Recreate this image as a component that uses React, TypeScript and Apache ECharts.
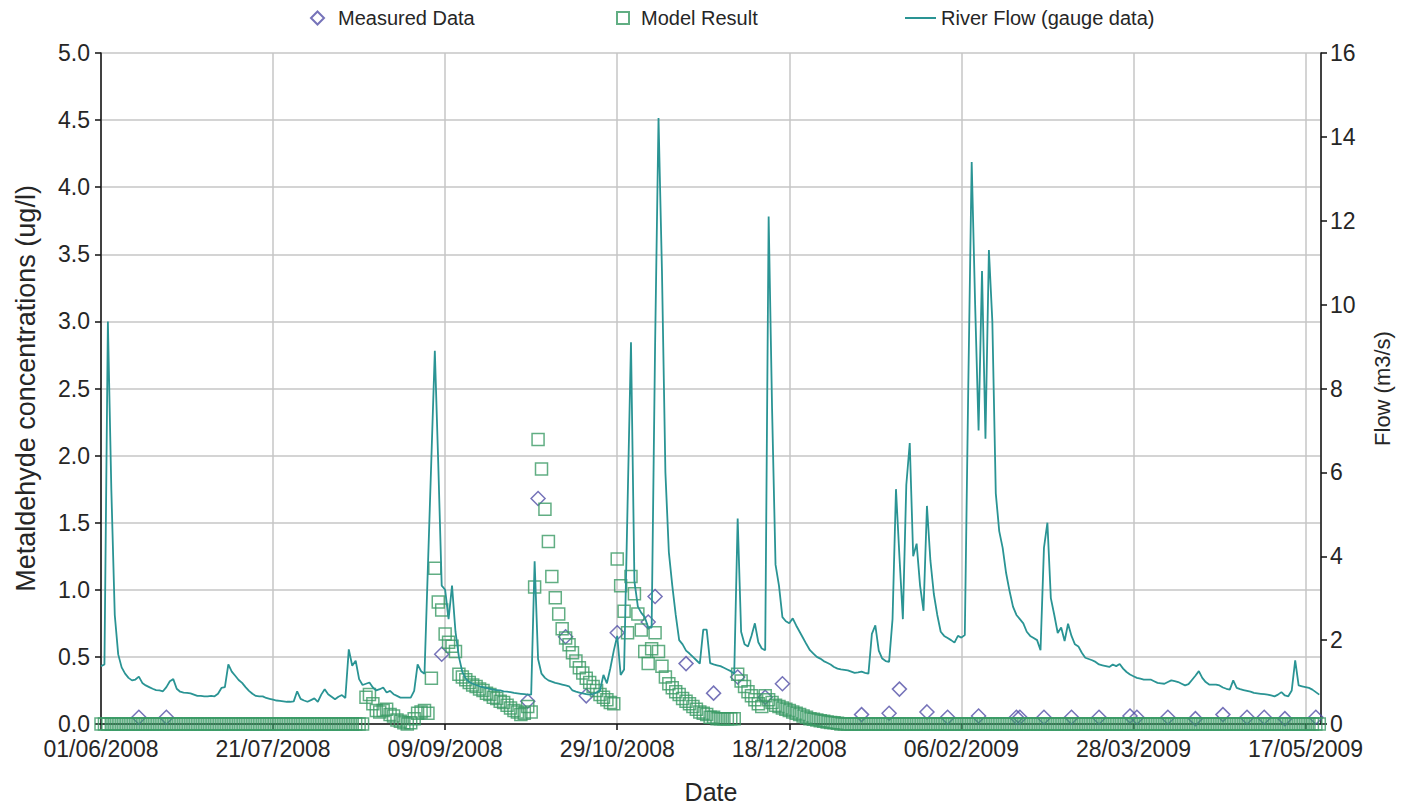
import React, { useEffect, useRef } from "react";
import * as echarts from "echarts";

// x values are day offsets from 01/06/2008
const START_DATE = Date.UTC(2008, 5, 1);
const X_MAX_DAY = 354.5;
const X_TICK_DAYS = 50;

const legendNames = ["Measured Data", "Model Result", "River Flow (gauge data)"];

// River flow (m3/s), one value per day from 01/06/2008
const flowValues = [
  1.38, 1.42, 9.6, 5.6, 2.6, 1.66, 1.35, 1.2, 1.1, 1.04,
  1.06, 1.13, 0.98, 0.92, 0.88, 0.84, 0.81, 0.8, 0.78, 0.88,
  1.02, 1.07, 0.84, 0.77, 0.75, 0.74, 0.73, 0.7, 0.67, 0.67,
  0.66, 0.66, 0.67, 0.66, 0.72, 0.86, 0.88, 1.42, 1.25, 1.15,
  1.05, 0.98, 0.88, 0.79, 0.72, 0.67, 0.66, 0.66, 0.62, 0.6,
  0.58, 0.56, 0.55, 0.54, 0.53, 0.53, 0.54, 0.78, 0.6, 0.56,
  0.53, 0.57, 0.61, 0.53, 0.7, 0.83, 0.71, 0.65, 0.59, 0.65,
  0.69, 0.62, 1.78, 1.39, 1.51, 1.07, 0.93, 0.96, 0.99, 0.87,
  0.8, 0.83, 0.87, 0.75, 0.79, 0.71, 0.67, 0.63, 0.63, 0.63,
  0.63, 0.79, 1.42, 1.26, 1.2, 3.77, 6.33, 8.9, 6.2, 3.3,
  3.2, 2.5, 3.3, 2.2, 1.6, 1.24, 1.08, 1.0, 0.96, 0.93,
  0.9, 0.88, 0.86, 0.84, 0.82, 0.81, 0.8, 0.78, 0.77, 0.76,
  0.74, 0.73, 0.72, 0.71, 0.7, 0.7, 3.88, 1.55, 1.2, 1.1,
  1.04, 1.01, 0.98, 0.96, 0.94, 0.92, 0.9, 0.8, 0.77, 0.75,
  0.73, 0.71, 0.7, 0.72, 0.75, 0.8, 1.17, 0.97, 1.33, 1.75,
  2.1, 1.17, 1.3, 5.2, 9.1, 3.4, 2.8, 2.65, 2.55, 2.3,
  2.3, 9.0, 14.45, 10.8, 6.0, 4.1, 3.3, 2.6, 2.0, 1.9,
  1.75, 1.68, 1.6, 1.52, 1.44, 2.25, 2.25, 1.45, 1.42, 1.4,
  1.38, 1.34, 1.3, 1.26, 1.2, 4.9, 2.2, 1.9, 1.85, 2.1,
  2.4, 1.95, 1.8, 1.76, 12.1, 7.5, 3.8, 3.3, 2.55, 2.45,
  2.4, 2.52, 2.35, 2.2, 2.05, 1.9, 1.76, 1.68, 1.6, 1.56,
  1.5, 1.46, 1.42, 1.36, 1.32, 1.3, 1.29, 1.28, 1.25, 1.22,
  1.23, 1.25, 1.22, 1.2, 2.15, 2.35, 1.75, 1.56, 1.5, 1.48,
  2.5, 5.6, 4.0, 2.5, 5.7, 6.7, 4.0, 4.3, 3.3, 2.7,
  5.2, 3.9, 3.1, 2.6, 2.2, 2.1, 2.05, 2.0, 1.94, 2.1,
  2.06, 2.12, 8.0, 13.4, 10.0, 7.0, 10.8, 6.8, 11.3, 9.6,
  5.5, 4.6, 4.2, 3.6, 3.17, 2.8, 2.6, 2.5, 2.4, 2.2,
  2.1, 2.05, 2.0, 1.76, 4.2, 4.8, 3.0, 2.6, 2.17, 2.3,
  1.98, 2.39, 2.1, 1.9, 1.85, 1.7, 1.58, 1.55, 1.52, 1.48,
  1.42, 1.4, 1.38, 1.36, 1.42, 1.38, 1.43, 1.32, 1.24, 1.18,
  1.14, 1.1, 1.08, 1.06, 1.06, 1.06, 1.02, 0.98, 0.97, 0.96,
  1.0, 1.04, 1.02, 1.0, 0.96, 0.92, 0.95, 1.05, 1.15, 1.26,
  1.1, 1.0, 0.94, 0.94, 0.94, 0.92, 0.87, 0.84, 0.82, 1.04,
  0.86, 0.83, 0.81, 0.79, 0.77, 0.74, 0.73, 0.72, 0.71, 0.7,
  0.68, 0.66, 0.7, 0.76, 0.68, 0.66, 0.8, 1.52, 0.92, 0.9,
  0.88, 0.86, 0.82, 0.76, 0.7,
];

// Model result (ug/l), one value per day from 01/06/2008
const modelValues = [
  0, 0, 0, 0, 0, 0, 0, 0, 0, 0,
  0, 0, 0, 0, 0, 0, 0, 0, 0, 0,
  0, 0, 0, 0, 0, 0, 0, 0, 0, 0,
  0, 0, 0, 0, 0, 0, 0, 0, 0, 0,
  0, 0, 0, 0, 0, 0, 0, 0, 0, 0,
  0, 0, 0, 0, 0, 0, 0, 0, 0, 0,
  0, 0, 0, 0, 0, 0, 0, 0, 0, 0,
  0, 0, 0, 0, 0, 0, 0, 0.2, 0.22, 0.15,
  0.1, 0.09, 0.1, 0.11, 0.07, 0.06, 0.03, 0.02, 0.01, 0.0,
  0.01, 0.04, 0.08, 0.09, 0.1, 0.08, 0.34, 1.16, 0.91, 0.85,
  0.67, 0.61, 0.58, 0.54, 0.37, 0.35, 0.33, 0.31, 0.29, 0.28,
  0.26, 0.25, 0.23, 0.22, 0.2, 0.19, 0.17, 0.16, 0.14, 0.12,
  0.1, 0.09, 0.07, 0.08, 0.13, 0.09, 1.02, 2.12, 1.9, 1.6,
  1.36, 1.1, 0.94, 0.82, 0.71, 0.64, 0.59, 0.53, 0.47, 0.42,
  0.38, 0.34, 0.31, 0.28, 0.25, 0.22, 0.2, 0.18, 0.16, 0.15,
  1.23, 1.03, 0.84, 0.68, 1.1, 0.97, 0.82, 0.7, 0.54, 0.45,
  0.56, 0.68, 0.54, 0.43, 0.35, 0.3, 0.27, 0.24, 0.22, 0.19,
  0.17, 0.15, 0.13, 0.11, 0.09, 0.08, 0.07, 0.05, 0.05, 0.04,
  0.04, 0.04, 0.04, 0.04, 0.04, 0.37, 0.32, 0.28, 0.24, 0.21,
  0.18, 0.15, 0.13, 0.21, 0.18, 0.16, 0.14, 0.13, 0.12, 0.11,
  0.1, 0.09, 0.08, 0.07, 0.06, 0.05, 0.04, 0.035, 0.03, 0.025,
  0.02, 0.015, 0.012, 0.01, 0.005, 0, 0, 0, 0, 0,
  0, 0, 0, 0, 0, 0, 0, 0, 0, 0,
  0, 0, 0, 0, 0, 0, 0, 0, 0, 0,
  0, 0, 0, 0, 0, 0, 0, 0, 0, 0,
  0, 0, 0, 0, 0, 0, 0, 0, 0, 0,
  0, 0, 0, 0, 0, 0, 0, 0, 0, 0,
  0, 0, 0, 0, 0, 0, 0, 0, 0, 0,
  0, 0, 0, 0, 0, 0, 0, 0, 0, 0,
  0, 0, 0, 0, 0, 0, 0, 0, 0, 0,
  0, 0, 0, 0, 0, 0, 0, 0, 0, 0,
  0, 0, 0, 0, 0, 0, 0, 0, 0, 0,
  0, 0, 0, 0, 0, 0, 0, 0, 0, 0,
  0, 0, 0, 0, 0, 0, 0, 0, 0, 0,
  0, 0, 0, 0, 0, 0, 0, 0, 0, 0,
  0, 0, 0, 0, 0,
];

// Measured data: sampling day (offset from 01/06/2008) and concentration (ug/l)
const measuredDays = [
  11, 19, 99, 124, 127, 135, 141, 150, 159, 161, 170, 178, 185, 193, 198,
  221, 229, 232, 240, 246, 255, 266, 267, 274, 282, 290, 299, 301, 310,
  318, 326, 333, 338, 344, 353,
];
const measuredValues = [
  0.05, 0.05, 0.52, 0.17, 1.68, 0.65, 0.21, 0.68, 0.76, 0.95, 0.45, 0.23, 0.35, 0.2, 0.3,
  0.07, 0.08, 0.26, 0.09, 0.05, 0.06, 0.05, 0.05, 0.05, 0.05, 0.05, 0.06, 0.05, 0.05,
  0.04, 0.07, 0.05, 0.05, 0.04, 0.05,
];

const pad2 = (n: number) => (n < 10 ? "0" + n : "" + n);
const dayToLabel = (d: number) => {
  const dt = new Date(START_DATE + Math.round(d) * 86400000);
  return pad2(dt.getUTCDate()) + "/" + pad2(dt.getUTCMonth() + 1) + "/" + dt.getUTCFullYear();
};

const FONT = "'Liberation Sans', Arial, sans-serif";
const GRID_COLOR = "#c6c6c6";
const AXIS_COLOR = "#111";
const TEXT_COLOR = "#262626";
const MEASURED_COLOR = "#5450a8";
const MODEL_COLOR = "#3a9a64";
const FLOW_COLOR = "#2a9494";

export default function App() {
  const ref = useRef<HTMLDivElement>(null);

  useEffect(() => {
    document.body.style.margin = "0";
    if (!ref.current) return;
    const chart = echarts.init(ref.current, undefined, { renderer: "svg" });

    const flowData = flowValues.map((v, i) => [i, v]);
    const modelData = modelValues.map((v, i) => [i, v]);
    const measuredData = measuredDays.map((d, i) => [d, measuredValues[i]]);

    const legendText = { fontSize: 20, color: TEXT_COLOR, fontFamily: FONT };

    chart.setOption({
      animation: false,
      backgroundColor: "#ffffff",
      textStyle: { fontFamily: FONT },
      grid: { left: 101, right: 80, top: 53, bottom: 83, containLabel: false },
      legend: [
        {
          data: [{ name: legendNames[0], icon: "diamond" }],
          left: 305,
          top: 3,
          itemWidth: 13,
          itemHeight: 13,
          textStyle: { ...legendText, padding: [0, 0, 0, 9] },
          selectedMode: false,
        },
        {
          data: [{ name: legendNames[1], icon: "rect" }],
          left: 611,
          top: 3,
          itemWidth: 12,
          itemHeight: 12,
          textStyle: { ...legendText, padding: [0, 0, 0, 7] },
          selectedMode: false,
        },
        {
          data: [{ name: legendNames[2], icon: "rect" }],
          left: 900,
          top: 3,
          itemWidth: 31,
          itemHeight: 2,
          textStyle: { ...legendText },
          selectedMode: false,
        },
      ],
      xAxis: {
        type: "value",
        min: 0,
        max: X_MAX_DAY,
        interval: X_TICK_DAYS,
        name: "Date",
        nameLocation: "middle",
        nameGap: 55,
        nameTextStyle: { fontSize: 25, color: TEXT_COLOR },
        axisLine: { show: true, onZero: false, lineStyle: { color: AXIS_COLOR, width: 1.5 } },
        axisTick: { show: true, length: 6, lineStyle: { color: AXIS_COLOR, width: 1.5 } },
        axisLabel: {
          formatter: (v: number) => dayToLabel(v),
          fontSize: 23,
          color: TEXT_COLOR,
          margin: 13,
          showMaxLabel: false,
        },
        splitLine: { show: true, lineStyle: { color: GRID_COLOR, width: 1.5 } },
      },
      yAxis: [
        {
          type: "value",
          position: "left",
          min: 0,
          max: 5,
          interval: 0.5,
          name: "Metaldehyde concentrations (ug/l)",
          nameLocation: "middle",
          nameRotate: 90,
          nameGap: 62,
          nameTextStyle: { fontSize: 27, color: TEXT_COLOR },
          axisLine: { show: true, onZero: false, lineStyle: { color: AXIS_COLOR, width: 1.5 } },
          axisTick: { show: true, length: 6, lineStyle: { color: AXIS_COLOR, width: 1.5 } },
          axisLabel: {
            formatter: (v: number) => v.toFixed(1),
            fontSize: 23,
            color: TEXT_COLOR,
            margin: 11,
          },
          splitLine: { show: true, lineStyle: { color: GRID_COLOR, width: 1.5 } },
        },
        {
          type: "value",
          position: "right",
          min: 0,
          max: 16,
          interval: 2,
          name: "Flow (m3/s)",
          nameLocation: "middle",
          nameRotate: 90,
          nameGap: 50,
          nameTextStyle: { fontSize: 22, color: TEXT_COLOR },
          axisLine: { show: true, onZero: false, lineStyle: { color: AXIS_COLOR, width: 1.5 } },
          axisTick: { show: true, length: 6, lineStyle: { color: AXIS_COLOR, width: 1.5 } },
          axisLabel: { fontSize: 23, color: TEXT_COLOR, margin: 9 },
          splitLine: { show: false },
        },
      ],
      series: [
        {
          name: legendNames[0],
          type: "scatter",
          xAxisIndex: 0,
          yAxisIndex: 0,
          symbol: "diamond",
          symbolSize: 14,
          itemStyle: { color: "rgba(255,255,255,0)", borderColor: MEASURED_COLOR, borderWidth: 1.5 },
          data: measuredData,
          z: 3,
        },
        {
          name: legendNames[1],
          type: "scatter",
          xAxisIndex: 0,
          yAxisIndex: 0,
          symbol: "rect",
          symbolSize: 12,
          itemStyle: { color: "rgba(255,255,255,0)", borderColor: MODEL_COLOR, borderWidth: 1.5 },
          data: modelData,
          z: 4,
        },
        {
          name: legendNames[2],
          type: "line",
          xAxisIndex: 0,
          yAxisIndex: 1,
          symbol: "none",
          showSymbol: false,
          lineStyle: { color: FLOW_COLOR, width: 1.8 },
          itemStyle: { color: FLOW_COLOR },
          data: flowData,
          z: 5,
        },
      ],
    });

    return () => {
      chart.dispose();
    };
  }, []);

  return <div ref={ref} style={{ width: 1401, height: 809 }} />;
}
